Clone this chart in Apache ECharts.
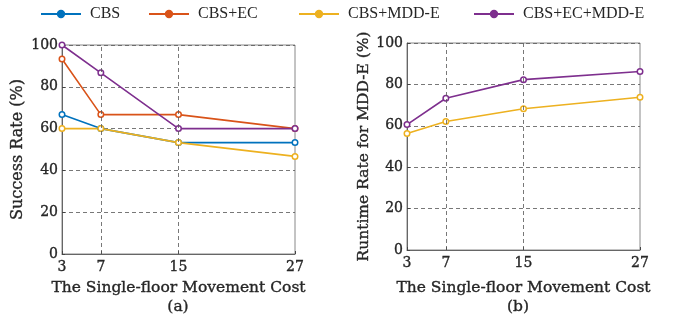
<!DOCTYPE html>
<html>
<head>
<meta charset="utf-8">
<script src="https://cdn.jsdelivr.net/npm/echarts@6/dist/echarts.min.js"></script>
<style>
  html, body { margin: 0; padding: 0; background: #fff; }
  #chart { width: 678px; height: 325px; }
</style>
</head>
<body>
<div id="chart"></div>
<script>
// Single-floor movement cost values on the x axis
const costs = [3, 7, 15, 27];
const yTicks = [0, 20, 40, 60, 80, 100];

// (a) Success rate (%)
const successCBS = [66.7, 60, 53.3, 53.3];
const successCBSEC = [93.3, 66.7, 66.7, 60];
const successCBSMDDE = [60, 60, 53.3, 46.7];
const successCBSECMDDE = [100, 86.7, 60, 60];

// (b) Runtime rate for MDD-E (%)
const runtimeCBSMDDE = [56.3, 62.1, 68.2, 73.8];
const runtimeCBSECMDDE = [60.6, 73.3, 82.3, 86.2];

const seriesNames = ['CBS', 'CBS+EC', 'CBS+MDD-E', 'CBS+EC+MDD-E'];
const colors = ['#0072BD', '#D95319', '#EDB120', '#7E2F8E'];

const tickFont = 'DejaVu Serif';
const titleFont = 'DejaVu Serif';
const textColor = '#262626';
// a thin outline in the text colour gives the labels a slightly heavier weight
const heavy = { textBorderColor: textColor, textBorderWidth: 0.35 };

function pairs(vals) {
  return costs.map((c, i) => [c, vals[i]]);
}

function lineSeries(name, vals, gridIdx, withGuides) {
  const c = colors[seriesNames.indexOf(name)];
  const s = {
    name: name,
    type: 'line',
    xAxisIndex: gridIdx,
    yAxisIndex: gridIdx,
    data: pairs(vals),
    symbol: 'circle',
    symbolSize: 5.5,
    itemStyle: { color: '#fff', borderColor: c, borderWidth: 1.5 },
    lineStyle: { color: c, width: 1.6 },
    emphasis: { disabled: true },
    z: 3
  };
  if (withGuides) {
    // vertical dashed guides at the inner tick positions
    s.markLine = {
      silent: true,
      symbol: 'none',
      label: { show: false },
      lineStyle: { color: '#555', type: [4, 3], width: 0.8 },
      data: costs.slice(1, -1).map(v => ({ xAxis: v }))
    };
  }
  return s;
}

function xAxis(gridIdx, gap) {
  return {
    type: 'value',
    gridIndex: gridIdx,
    min: costs[0],
    max: costs[costs.length - 1],
    name: 'The Single-floor Movement Cost',
    nameLocation: 'middle',
    nameGap: gap,
    nameTextStyle: Object.assign({ fontFamily: titleFont, fontSize: 15.5, color: textColor }, heavy),
    axisLine: { lineStyle: { color: '#666', width: 1 } },
    axisTick: { inside: true, length: 3, customValues: costs, lineStyle: { color: '#444' } },
    axisLabel: Object.assign({ customValues: costs, fontFamily: tickFont, fontSize: 14, color: textColor, margin: 6 }, heavy),
    splitLine: { show: false }
  };
}

function yAxis(gridIdx, title, gap, size) {
  return {
    type: 'value',
    gridIndex: gridIdx,
    min: yTicks[0],
    max: yTicks[yTicks.length - 1],
    interval: 20,
    name: title,
    nameLocation: 'middle',
    nameGap: gap,
    nameTextStyle: Object.assign({ fontFamily: titleFont, fontSize: size, color: textColor }, heavy),
    axisLine: { show: true, lineStyle: { color: '#666', width: 1 } },
    axisTick: { show: true, inside: true, length: 3, lineStyle: { color: '#444' } },
    axisLabel: Object.assign({ fontFamily: tickFont, fontSize: 14, color: textColor, margin: 4 }, heavy),
    splitLine: { show: true, lineStyle: { color: '#555', type: [4, 3], width: 0.8 } }
  };
}

// one legend entry per component so each item sits at its own spot in the row
const legendLefts = [40, 148, 298, 473];
const legends = seriesNames.map((n, i) => ({
  top: 6,
  left: legendLefts[i],
  padding: 0,
  itemWidth: 40,
  itemHeight: 8,
  textStyle: { fontFamily: 'Liberation Serif', fontSize: 16, color: textColor, padding: [0, 0, 0, 4] },
  data: [{ name: n, itemStyle: { color: colors[i], borderColor: colors[i] } }]
}));

const chart = echarts.init(document.getElementById('chart'), null, { renderer: 'canvas' });

chart.setOption({
  animation: false,
  backgroundColor: '#fff',
  legend: legends,
  grid: [
    { left: 62, top: 45, width: 233, height: 209, show: true, borderColor: '#888', borderWidth: 1, backgroundColor: 'transparent' },
    { left: 407, top: 43, width: 233, height: 207, show: true, borderColor: '#888', borderWidth: 1, backgroundColor: 'transparent' }
  ],
  xAxis: [xAxis(0, 26), xAxis(1, 30)],
  yAxis: [
    yAxis(0, 'Success Rate (%)', 36, 16),
    yAxis(1, 'Runtime Rate for MDD-E (%)', 32, 15.5)
  ],
  series: [
    lineSeries('CBS', successCBS, 0, true),
    lineSeries('CBS+EC', successCBSEC, 0, false),
    lineSeries('CBS+MDD-E', successCBSMDDE, 0, false),
    lineSeries('CBS+EC+MDD-E', successCBSECMDDE, 0, false),
    lineSeries('CBS+MDD-E', runtimeCBSMDDE, 1, true),
    lineSeries('CBS+EC+MDD-E', runtimeCBSECMDDE, 1, false)
  ],
  graphic: [
    { type: 'text', x: 178, y: 307, style: Object.assign({ text: '(a)', font: '15.5px "DejaVu Serif"', fill: textColor, align: 'center', verticalAlign: 'middle', stroke: textColor, lineWidth: 0.35 }) },
    { type: 'text', x: 518, y: 307, style: Object.assign({ text: '(b)', font: '15.5px "DejaVu Serif"', fill: textColor, align: 'center', verticalAlign: 'middle', stroke: textColor, lineWidth: 0.35 }) }
  ]
});
</script>
</body>
</html>
